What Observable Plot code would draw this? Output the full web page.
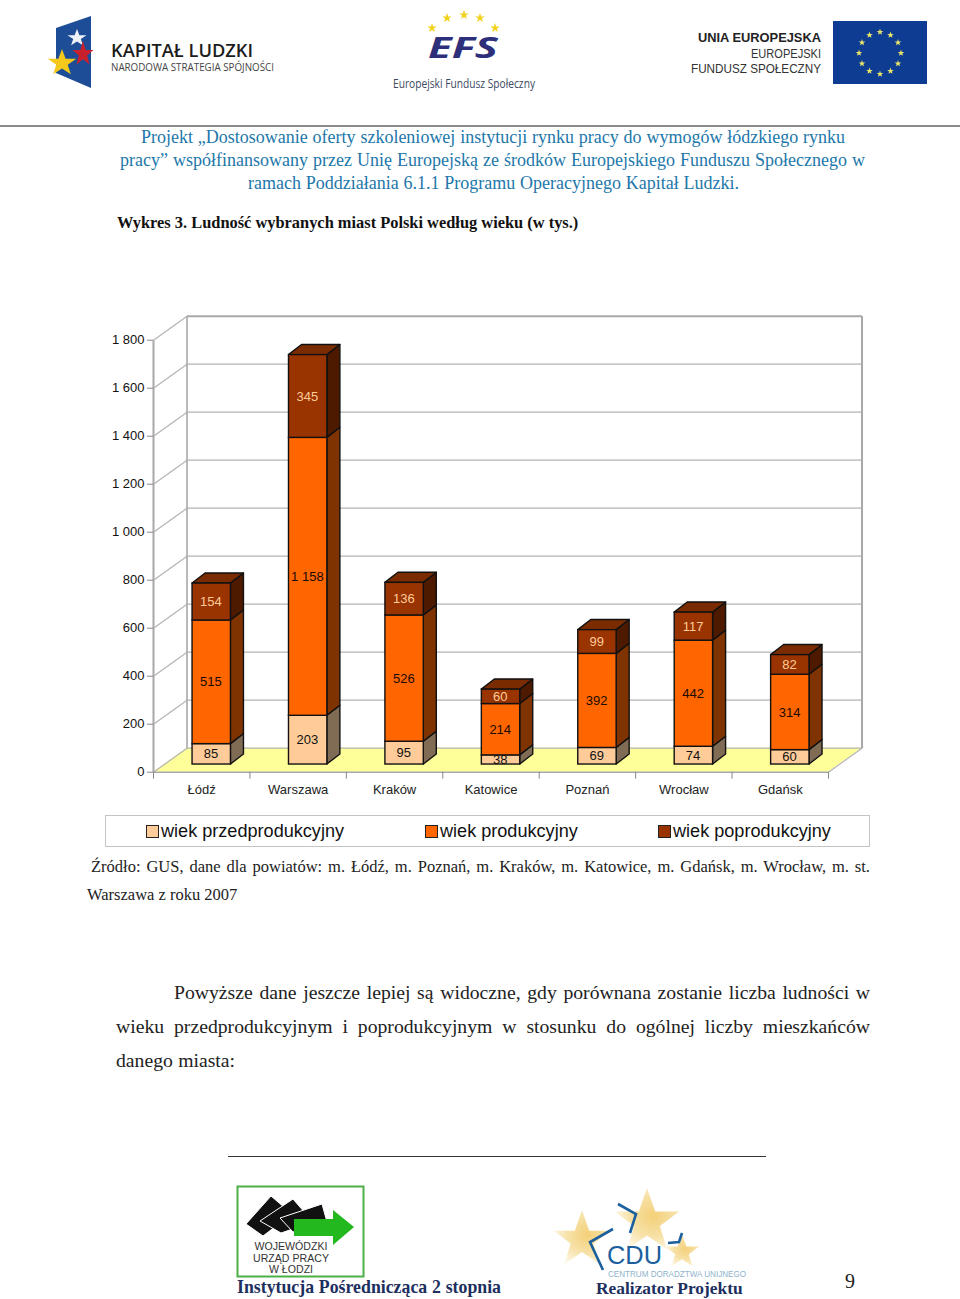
<!DOCTYPE html>
<html lang="pl">
<head>
<meta charset="utf-8">
<script src="https://cdn.jsdelivr.net/npm/d3@7"></script>
<script src="https://cdn.jsdelivr.net/npm/@observablehq/plot@0.6"></script>
<style>
html,body{margin:0;padding:0;background:#fff}
#page{position:relative;width:960px;height:1299px;overflow:hidden;background:#fff}
.l{position:absolute;white-space:nowrap;line-height:1;text-align:justify;text-align-last:justify}
.serif{font-family:"Liberation Serif",serif;color:#222}
.head{font-family:"Liberation Serif",serif;font-size:18px;color:#2277aa}
#chart{position:absolute;left:0;top:300px}
#legend{position:absolute;left:105px;top:815px;width:763px;height:30px;border:1.5px solid #c4c4c4;box-sizing:content-box}
.sw{position:absolute;top:824.5px;width:11px;height:11px;border:1px solid #222}
.leg{position:absolute;top:821px;font:18.1px/20px "Liberation Sans",Arial,sans-serif;color:#111;white-space:nowrap}
svg.deco{position:absolute;left:0;top:0}
</style>
</head>
<body>
<div id="page">
<svg class="deco" width="960" height="1299" font-family="Open Sans, Liberation Sans, sans-serif">
  <defs>
    <polygon id="star" points="0,-1 0.24,-0.31 0.95,-0.31 0.38,0.12 0.59,0.81 0,0.4 -0.59,0.81 -0.38,0.12 -0.95,-0.31 -0.24,-0.31"/>
    <radialGradient id="gold" cx="0.6" cy="0.45" r="0.6">
      <stop offset="0" stop-color="#f4d078"/><stop offset="0.6" stop-color="#f7e2aa"/><stop offset="1" stop-color="#fdf6e3"/>
    </radialGradient>
  </defs>
  <!-- Kapitał Ludzki -->
  <polygon points="56,28 91,16 91,88 56,73" fill="#1d4d96"/>
  <use href="#star" transform="translate(77,38) scale(10,9)" fill="#eef2f7"/>
  <use href="#star" transform="translate(83,54) scale(11,13)" fill="#c8202c"/>
  <use href="#star" transform="translate(62,63) scale(15,14)" fill="#f5c91c"/>
  <text x="111" y="57" font-size="18.5" font-weight="600" fill="#1c1c1c" textLength="142" lengthAdjust="spacingAndGlyphs">KAPITAŁ LUDZKI</text>
  <text x="111" y="71" font-size="10.5" fill="#444" textLength="163" lengthAdjust="spacingAndGlyphs">NARODOWA STRATEGIA SPÓJNOŚCI</text>
  <!-- EFS -->
  <g fill="#f2d21e">
    <use href="#star" transform="translate(432,28) scale(5)"/><use href="#star" transform="translate(447,18) scale(5)"/>
    <use href="#star" transform="translate(464,15) scale(5)"/><use href="#star" transform="translate(480,18) scale(5)"/>
    <use href="#star" transform="translate(495,28) scale(5)"/>
  </g>
  <text x="428" y="58" font-size="28" font-style="italic" font-weight="700" fill="#2d2f7a" textLength="70" lengthAdjust="spacingAndGlyphs">EFS</text>
  <text x="393" y="88" font-size="13" fill="#3d4a63" textLength="142" lengthAdjust="spacingAndGlyphs">Europejski Fundusz Społeczny</text>
  <!-- EU -->
  <text x="698" y="42" font-size="12.8" font-weight="700" fill="#222" font-family="Liberation Sans, sans-serif" textLength="123" lengthAdjust="spacingAndGlyphs">UNIA EUROPEJSKA</text>
  <text x="751" y="58" font-size="12.5" fill="#333" font-family="Liberation Sans, sans-serif" textLength="70" lengthAdjust="spacingAndGlyphs">EUROPEJSKI</text>
  <text x="691" y="73" font-size="12.5" fill="#333" font-family="Liberation Sans, sans-serif" textLength="130" lengthAdjust="spacingAndGlyphs">FUNDUSZ SPOŁECZNY</text>
  <rect x="833" y="21" width="94" height="63" fill="#0f3c93"/>
  <g fill="#e8e56a">
    <use href="#star" transform="translate(880,32) scale(3.5)"/><use href="#star" transform="translate(890.5,35) scale(3.5)"/>
    <use href="#star" transform="translate(898,42.5) scale(3.5)"/><use href="#star" transform="translate(901,53) scale(3.5)"/>
    <use href="#star" transform="translate(898,63.5) scale(3.5)"/><use href="#star" transform="translate(890.5,71) scale(3.5)"/>
    <use href="#star" transform="translate(880,74) scale(3.5)"/><use href="#star" transform="translate(869.5,71) scale(3.5)"/>
    <use href="#star" transform="translate(862,63.5) scale(3.5)"/><use href="#star" transform="translate(859,53) scale(3.5)"/>
    <use href="#star" transform="translate(862,42.5) scale(3.5)"/><use href="#star" transform="translate(869.5,35) scale(3.5)"/>
  </g>
  <line x1="0" y1="126" x2="960" y2="126" stroke="#666" stroke-width="1.6"/>
  <!-- footer -->
  <line x1="228" y1="1156.5" x2="766" y2="1156.5" stroke="#333" stroke-width="1"/>
  <rect x="237.5" y="1186.5" width="126" height="90" fill="#fff" stroke="#4caf48" stroke-width="2"/>
  <polygon points="246,1224 271,1196 292,1214 263,1236" fill="#111" stroke="#fff" stroke-width="1"/>
  <polygon points="260,1221 293,1199 313,1222 281,1233" fill="#111" stroke="#fff" stroke-width="1"/>
  <polygon points="280,1218 322,1204 327,1222 293,1232" fill="#111" stroke="#fff" stroke-width="1"/>
  <polygon points="294,1219 333,1219 333,1210 354,1227 333,1245 333,1236 294,1236" fill="#22b81e"/>
  <g font-size="10.6" fill="#333" text-anchor="middle" font-family="Liberation Sans, sans-serif">
    <text x="291" y="1250">WOJEWÓDZKI</text><text x="291" y="1261.5">URZĄD PRACY</text><text x="291" y="1273">W ŁODZI</text>
  </g>
  <!-- CDU -->
  <use href="#star" transform="translate(582,1240) scale(30)" fill="url(#gold)"/>
  <use href="#star" transform="translate(647,1222) scale(34)" fill="url(#gold)"/>
  <use href="#star" transform="translate(682,1252) scale(18)" fill="url(#gold)"/>
  <path d="M618 1204 L636 1214 L630 1233 M613 1229 L590 1242 L603 1270 M668 1243 L679 1242 L682 1233" fill="none" stroke="#1b5f9e" stroke-width="2.6"/>
  <text x="607" y="1264" font-size="26" fill="#1b5f9e" font-family="Liberation Sans, sans-serif" textLength="55" lengthAdjust="spacingAndGlyphs">CDU</text>
  <text x="608" y="1277" font-size="9.5" fill="#8fb3cc" font-family="Liberation Sans, sans-serif" textLength="138" lengthAdjust="spacingAndGlyphs">CENTRUM DORADZTWA UNIJNEGO</text>
</svg>

<div class="l head" style="left:141px;width:704px;top:128px">Projekt „Dostosowanie oferty szkoleniowej instytucji rynku pracy do wymogów łódzkiego rynku</div>
<div class="l head" style="left:120px;width:745px;top:151px">pracy” współfinansowany przez Unię Europejską ze środków Europejskiego Funduszu Społecznego w</div>
<div class="l head" style="left:248px;width:491px;top:174px">ramach Poddziałania 6.1.1 Programu Operacyjnego Kapitał Ludzki.</div>
<div class="l serif" style="left:117px;width:461px;top:214.5px;font-size:16.4px;font-weight:700;color:#111">Wykres 3. Ludność wybranych miast Polski według wieku (w tys.)</div>

<div id="chart"></div>

<div id="legend"></div>
<div class="sw" style="left:146px;background:#ffcc99"></div><div class="leg" style="left:161px">wiek przedprodukcyjny</div>
<div class="sw" style="left:425px;background:#ff6600"></div><div class="leg" style="left:440px">wiek produkcyjny</div>
<div class="sw" style="left:658px;background:#993300"></div><div class="leg" style="left:673px">wiek poprodukcyjny</div>

<div class="l serif" style="left:91px;width:779px;top:859px;font-size:16.5px">Źródło: GUS, dane dla powiatów: m. Łódź, m. Poznań, m. Kraków, m. Katowice, m. Gdańsk, m. Wrocław, m. st.</div>
<div class="l serif" style="left:87px;width:150px;top:887px;font-size:16.5px">Warszawa z roku 2007</div>
<div class="l serif" style="left:174px;width:696px;top:983px;font-size:19.7px">Powyższe dane jeszcze lepiej są widoczne, gdy porównana zostanie liczba ludności w</div>
<div class="l serif" style="left:116px;width:754px;top:1017px;font-size:19.7px">wieku przedprodukcyjnym i poprodukcyjnym w stosunku do ogólnej liczby mieszkańców</div>
<div class="l serif" style="left:116px;width:119px;top:1051px;font-size:19.7px">danego miasta:</div>
<div class="l serif" style="left:237px;width:264px;top:1278.5px;font-size:17.8px;font-weight:700;color:#1d2f5e">Instytucja Pośrednicząca 2 stopnia</div>
<div class="l serif" style="left:596px;width:146px;top:1279.5px;font-size:17.4px;font-weight:700;color:#1d2f5e">Realizator Projektu</div>
<div class="l serif" style="left:845px;top:1271px;font-size:20px">9</div>
</div>

<script>
const cities = ["Łódź", "Warszawa", "Kraków", "Katowice", "Poznań", "Wrocław", "Gdańsk"];
const przed = [85, 203, 95, 38, 69, 74, 60];
const prod = [515, 1158, 526, 214, 392, 442, 314];
const popr = [154, 345, 136, 60, 99, 117, 82];
const yTicks = [0, 200, 400, 600, 800, 1000, 1200, 1400, 1600, 1800];

// Pseudo-3D geometry, in scale units
const backX = 0.3475, backY = 100;    // wall depth
const barX = 0.405, barW = 0.398;     // bar offset and width within a category
const barBase = 32;                   // bar sits forward of the front floor edge
const sideX = 0.135, sideY = 42;      // bar depth

const fmt = d => d3.format(",")(d).replace(/,/g, " ");
const n = cities.length;

const series = [
  {key: "przed", values: przed, front: "#ffcc99", side: "#806b55", label: "#111"},
  {key: "prod", values: prod, front: "#ff6600", side: "#7f3300", label: "#1a0a00"},
  {key: "popr", values: popr, front: "#993300", side: "#4d1a00", label: "#ffcc99"}
];

const segments = series.map(s => {
  return s.values.map((v, i) => {
    const lo = barBase + series.slice(0, series.indexOf(s)).reduce((a, b) => a + b.values[i], 0);
    return {i, v, lo, hi: lo + v, x1: i + barX, x2: i + barX + barW};
  });
});

const sideRows = segs => segs.flatMap(d => [
  {id: d.i, x: d.x2, lo: d.lo, hi: d.hi},
  {id: d.i, x: d.x2 + sideX, lo: d.lo + sideY, hi: d.hi + sideY}
]);
const topRows = segments[2].flatMap(d => [
  {id: d.i, y: d.hi, l: d.x1, r: d.x2},
  {id: d.i, y: d.hi + sideY, l: d.x1 + sideX, r: d.x2 + sideX}
]);

const wallColor = "#a8a8a8", gridColor = "#b4b4b4";

const marks = [
  // floor
  Plot.area([{y: 0, l: 0, r: n}, {y: backY, l: backX, r: n + backX}], {
    y1: "y", x1: "l", x2: "r", fill: "#ffff99"
  }),
  // back wall gridlines
  Plot.link(yTicks.slice(0, -1), {x1: backX, x2: n + backX, y1: d => d + backY, y2: d => d + backY, stroke: gridColor, strokeWidth: 1.2}),
  // left wall diagonals
  Plot.link(yTicks, {x1: 0, x2: backX, y1: d => d, y2: d => d + backY, stroke: gridColor, strokeWidth: 1.2}),
  // wall frame
  Plot.link([0], {x1: 0, x2: 0, y1: 0, y2: 1800, stroke: wallColor, strokeWidth: 2}),
  Plot.link([0], {x1: backX, x2: backX, y1: backY, y2: 1800 + backY, stroke: wallColor, strokeWidth: 1.6}),
  Plot.link([0], {x1: n + backX, x2: n + backX, y1: backY, y2: 1800 + backY, stroke: wallColor, strokeWidth: 2}),
  Plot.link([0], {x1: backX, x2: n + backX, y1: 1800 + backY, y2: 1800 + backY, stroke: wallColor, strokeWidth: 2}),
  Plot.link([0], {x1: n, x2: n + backX, y1: 0, y2: backY, stroke: gridColor, strokeWidth: 1.2}),
  Plot.link([0], {x1: 0, x2: n, y1: 0, y2: 0, stroke: wallColor, strokeWidth: 1.6}),
  // axes
  Plot.axisY({ticks: yTicks, tickFormat: fmt, tickSize: 6, tickPadding: 3, stroke: "#888", fill: "#111", fontSize: 13, label: null}),
  Plot.axisX({ticks: d3.range(n + 1), tickFormat: () => "", tickSize: 7, stroke: "#888", label: null}),
  Plot.text(cities, {x: (d, i) => i + 0.5, y: 0, dy: 17.5, text: d => d, fill: "#222", fontSize: 13}),
];

// bars: side faces, then top face, then front faces and labels
series.forEach((s, k) => {
  marks.push(Plot.area(sideRows(segments[k]), {
    x1: "x", x2: "x", y1: "lo", y2: "hi", z: "id", fill: s.side, stroke: "#111", strokeWidth: 1.4
  }));
});
marks.push(Plot.area(topRows, {y1: "y", x1: "l", x2: "r", z: "id", fill: "#7a2c00", stroke: "#111", strokeWidth: 1.4}));
series.forEach((s, k) => {
  marks.push(Plot.rect(segments[k], {
    x1: "x1", x2: "x2", y1: "lo", y2: "hi", fill: s.front, stroke: "#111", strokeWidth: 1.4
  }));
});
series.forEach((s, k) => {
  marks.push(Plot.text(segments[k], {
    x: d => (d.x1 + d.x2) / 2, y: d => (d.lo + d.hi) / 2, dx: -0.8, text: d => fmt(d.v), fill: s.label, fontSize: 13
  }));
});

const chart = Plot.plot({
  width: 960,
  height: 510,
  marginLeft: 153,
  marginRight: 132,
  marginTop: 15.7,
  marginBottom: 38.3,
  x: {domain: [0, n], axis: null},
  y: {domain: [0, 1800 + backY], axis: null},
  style: {fontFamily: '"Liberation Sans", Arial, sans-serif', fontSize: "13px", background: "transparent", overflow: "visible"},
  marks
});
document.getElementById("chart").append(chart);
</script>
</body>
</html>
